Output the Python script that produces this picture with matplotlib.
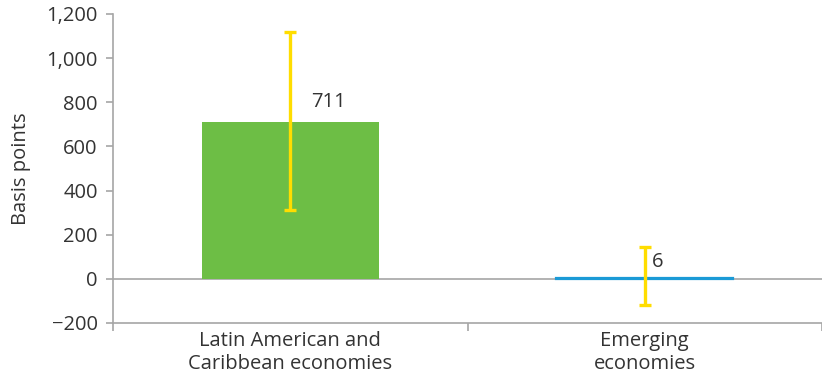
import numpy as np
import matplotlib
matplotlib.use("Agg")
import matplotlib.pyplot as plt

categories = ["Latin American and\nCaribbean economies", "Emerging\neconomies"]
values = [711, 6]
err_low = [313, -118]
err_high = [1117, 145]
bar_colors = ["#6DBE45", "#1B9AD6"]
yticks = [-200, 0, 200, 400, 600, 800, 1000, 1200]

plt.rcParams['font.family'] = ['Open Sans', 'DejaVu Sans']
text_color = "#333333"
axis_color = "#A6A6A6"
fs = 14.5

fig = plt.figure(figsize=(8.22, 3.76), dpi=100)
ax = fig.add_axes([0.1375, 0.141, 0.8625, 0.822])

x = np.arange(len(categories))
ax.bar(x, values, width=0.5, color=bar_colors, edgecolor=bar_colors, linewidth=[0, 1.6], zorder=2)

vals = np.array(values)
yerr = np.array([vals - np.array(err_low), np.array(err_high) - vals])
ax.errorbar(x, vals, yerr=yerr, fmt="none", ecolor="#FFDD00", elinewidth=2.4,
            capsize=4.5, capthick=2.4, zorder=3)

# value labels
ax.text(x[0] + 0.107, 800, "711", ha="center", va="center", fontsize=fs, color=text_color)
ax.text(x[1] + 0.035, 77, "6", ha="center", va="center", fontsize=fs, color=text_color)

ax.axhline(0, color=axis_color, linewidth=1.2, zorder=1)

ax.set_xlim(-0.5, 1.5)
ax.set_ylim(-200, 1200)
ax.set_yticks(yticks)
ax.set_yticklabels([f"{v:,}".replace("-", "\u2212") for v in yticks])
ax.set_xticks(x)
ax.set_xticklabels(categories, linespacing=1.15)
ax.set_xticks([-0.5, 0.5, 1.5], minor=True)
ax.tick_params(axis="x", which="major", length=0, pad=6, labelsize=fs, labelcolor=text_color)
ax.tick_params(axis="x", which="minor", length=6, color=axis_color, width=1.2)
ax.tick_params(axis="y", length=5, color=axis_color, width=1.2, labelsize=fs,
               labelcolor=text_color, pad=6)

for s in ["top", "right"]:
    ax.spines[s].set_visible(False)
for s in ["left", "bottom"]:
    ax.spines[s].set_color(axis_color)
    ax.spines[s].set_linewidth(1.2)

ax.set_ylabel("Basis points", fontsize=fs, color=text_color, labelpad=11)

fig.savefig("out.png", dpi=100)
